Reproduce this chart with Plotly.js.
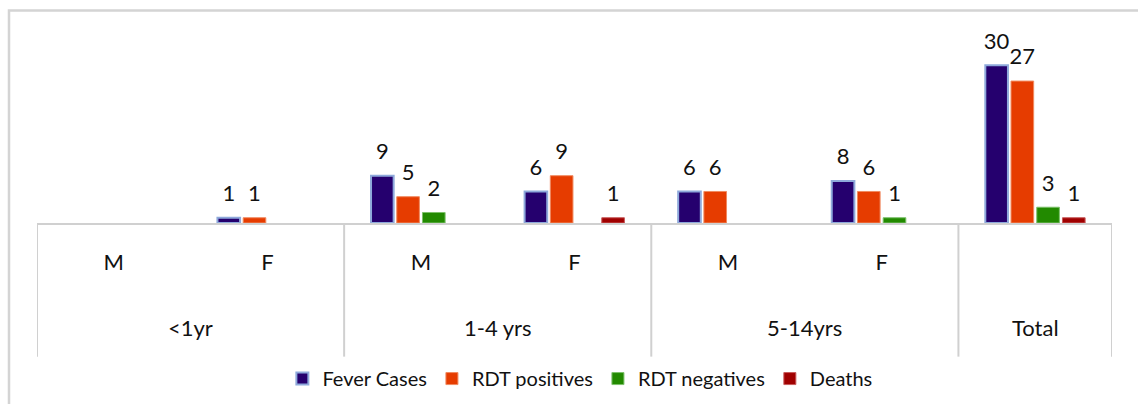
<!DOCTYPE html>
<html>
<head>
<meta charset="utf-8">
<script src="https://cdn.plot.ly/plotly-3.0.1.min.js"></script>
<style>html,body{margin:0;padding:0;background:#fff;}#chart{width:1138px;height:404px;}</style>
</head>
<body>
<div id="chart"></div>
<script>
// ---- data ----
var groups = ["<1yr", "<1yr", "1-4 yrs", "1-4 yrs", "5-14yrs", "5-14yrs", "Total"];
var sexes = ["M", "F", "M", "F", "M", "F", ""];
var feverCases = [null, 1, 9, 6, 6, 8, 30];
var rdtPositives = [null, 1, 5, 9, 6, 6, 27];
var rdtNegatives = [null, null, 2, null, null, 1, 3];
var deaths = [null, null, null, 1, null, null, 1];
var seriesNames = ["Fever Cases", "RDT positives", "RDT negatives", "Deaths"];

// ---- build ----
var cats = groups.map(function (g, i) { return g + " " + sexes[i]; });
var fills = ["#25006E", "#E63C00", "#228A00", "#A00000"];
var borders = ["#8EA9DB", "#F08A60", "#7CC06A", "#C85A5A"];
var borderW = [2, 1, 1, 1];
var allSeries = [feverCases, rdtPositives, rdtNegatives, deaths];

var FONT = "Lato, 'Open Sans', sans-serif";
var FS = 22;
// value label: the number in full size, followed by a small spacer line so it sits higher above the bar
function labelText(v) {
  return v == null ? "" : "<span style='font-size:" + FS + "px'>" + v + "</span><br>&nbsp;";
}
var traces = allSeries.map(function (vals, k) {
  return {
    type: "bar",
    name: seriesNames[k],
    x: cats,
    y: vals,
    text: vals.map(labelText),
    textposition: "outside",
    constraintext: "none",
    cliponaxis: false,
    textfont: { family: FONT, size: 9, color: "#111" },
    marker: { color: fills[k], line: { color: borders[k], width: borderW[k] } },
    hoverinfo: "x+y+name"
  };
});

// pixel geometry helpers (layout only)
var H = 404, W = 1138;
var mL = 37, mR = 26, plotTop = 38.5, axisY = 223;
var plotH = axisY - plotTop, plotW = W - mL - mR;
function py(px) { return (axisY - px) / plotH; }
function pxX(px) { return (px - mL) / plotW; }

// group spans
var spans = [];
groups.forEach(function (g, i) {
  if (!spans.length || spans[spans.length - 1].name !== g) spans.push({ name: g, first: i, last: i });
  else spans[spans.length - 1].last = i;
});

var annotations = spans.map(function (s) {
  return {
    x: (s.first + s.last) / 2, xref: "x",
    y: py(328), yref: "paper", yanchor: "middle",
    text: s.name, showarrow: false,
    font: { family: FONT, size: FS, color: "#111" }
  };
});

var shapes = [];
spans.forEach(function (s, idx) {
  shapes.push({ type: "line", xref: "x", yref: "paper", x0: s.first - 0.5, x1: s.first - 0.5, y0: 0, y1: py(357),
    line: { color: "#D0D0D0", width: 2 } });
  if (idx === spans.length - 1) {
    shapes.push({ type: "line", xref: "x", yref: "paper", x0: s.last + 0.5, x1: s.last + 0.5, y0: 0, y1: py(357),
      line: { color: "#D0D0D0", width: 2 } });
  }
});
// outer chart frame
shapes.push({ type: "rect", xref: "paper", yref: "paper", x0: pxX(9), x1: pxX(1150), y0: py(420), y1: py(10),
  line: { color: "#D4D4D4", width: 2.5 }, fillcolor: "rgba(0,0,0,0)", layer: "below" });

var layout = {
  width: W, height: H,
  margin: { l: mL, r: mR, t: plotTop, b: H - axisY, pad: 0, autoexpand: false },
  paper_bgcolor: "#fff", plot_bgcolor: "#fff",
  barmode: "group", bargap: 0.33, bargroupgap: 0.12,
  font: { family: FONT, size: FS, color: "#111" },
  showlegend: true,
  legend: { orientation: "h", x: 0.505, xanchor: "center", y: py(379), yanchor: "middle",
    font: { family: FONT, size: 20, color: "#111" }, traceorder: "normal", itemclick: false },
  xaxis: {
    type: "category", categoryorder: "array", categoryarray: cats,
    tickvals: cats, ticktext: sexes,
    range: [-0.5, cats.length - 0.5],
    showline: true, linecolor: "#D0D0D0", linewidth: 2,
    ticks: "outside", ticklen: 19, tickcolor: "rgba(0,0,0,0)",
    showgrid: false, zeroline: false, automargin: false,
    tickfont: { family: FONT, size: FS, color: "#111" }
  },
  yaxis: { range: [0, 35], visible: false, showgrid: false, zeroline: false, fixedrange: true, automargin: false },
  annotations: annotations,
  shapes: shapes
};

Plotly.newPlot("chart", traces, layout, { displayModeBar: false, staticPlot: true });
</script>
</body>
</html>
